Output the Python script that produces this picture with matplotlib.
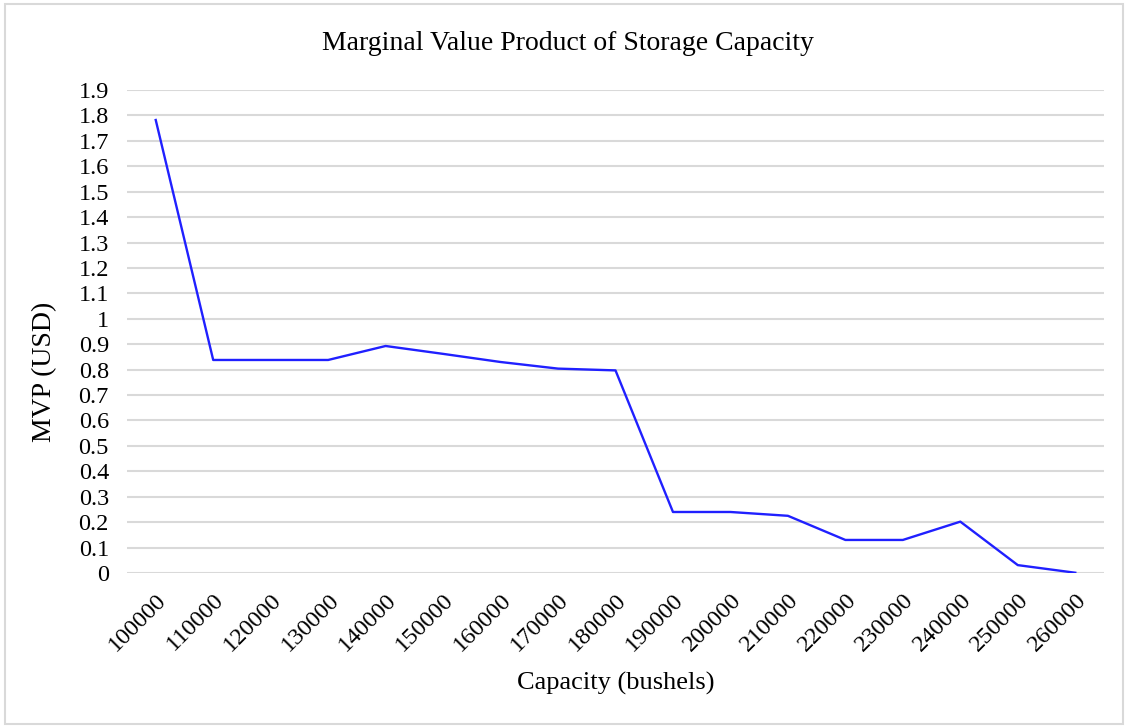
import matplotlib.pyplot as plt
from matplotlib.patches import Rectangle

# Data
capacity = [100000, 110000, 120000, 130000, 140000, 150000, 160000, 170000, 180000,
            190000, 200000, 210000, 220000, 230000, 240000, 250000, 260000]
mvp = [1.782, 0.838, 0.838, 0.838, 0.893, 0.862, 0.830, 0.804, 0.797,
       0.240, 0.240, 0.225, 0.130, 0.130, 0.202, 0.031, 0.001]
yticks = [0, 0.1, 0.2, 0.3, 0.4, 0.5, 0.6, 0.7, 0.8, 0.9, 1,
          1.1, 1.2, 1.3, 1.4, 1.5, 1.6, 1.7, 1.8, 1.9]

plt.rcParams['font.family'] = ['Liberation Serif', 'DejaVu Serif']

W, H = 1128, 728
fig = plt.figure(figsize=(W / 100, H / 100), dpi=100)
fig.patches.append(Rectangle((0.004, 0.006), 0.992, 0.988, transform=fig.transFigure,
                             fill=False, edgecolor='#d9d9d9', linewidth=1.5))

ax = fig.add_axes([127 / W, 1 - 573 / H, (1104 - 127) / W, (573 - 90) / H])
x = list(range(len(capacity)))
ax.plot(x, mvp, color='#2020ff', linewidth=1.7, zorder=3)

ax.set_xlim(-0.5, len(capacity) - 0.5)
ax.set_ylim(0, 1.9)
ax.set_yticks(yticks)
ax.set_yticklabels([f"{v:g}" for v in yticks])
ax.set_xticks(x)
ax.set_xticklabels([str(c) for c in capacity], rotation=45, ha='right',
                   rotation_mode='anchor')
ax.tick_params(length=0, labelsize=17.5)
ax.tick_params(axis='x', pad=12)
ax.tick_params(axis='y', pad=13)
ax.grid(axis='y', color='#d9d9d9', linewidth=1.5)
ax.set_axisbelow(True)
for s in ax.spines.values():
    s.set_visible(False)

fig.text(568 / W, 1 - 43 / H, "Marginal Value Product of Storage Capacity",
         fontsize=20, ha='center', va='center')
ax.set_xlabel("Capacity (bushels)", fontsize=19, va='center')
ax.xaxis.set_label_coords(0.5, (573 - 683) / 483)
ax.set_ylabel("MVP (USD)", fontsize=20, va='center')
ax.yaxis.set_label_coords((45 - 127) / 977, (573 - 372) / 483)

fig.savefig("out.png", dpi=100)
